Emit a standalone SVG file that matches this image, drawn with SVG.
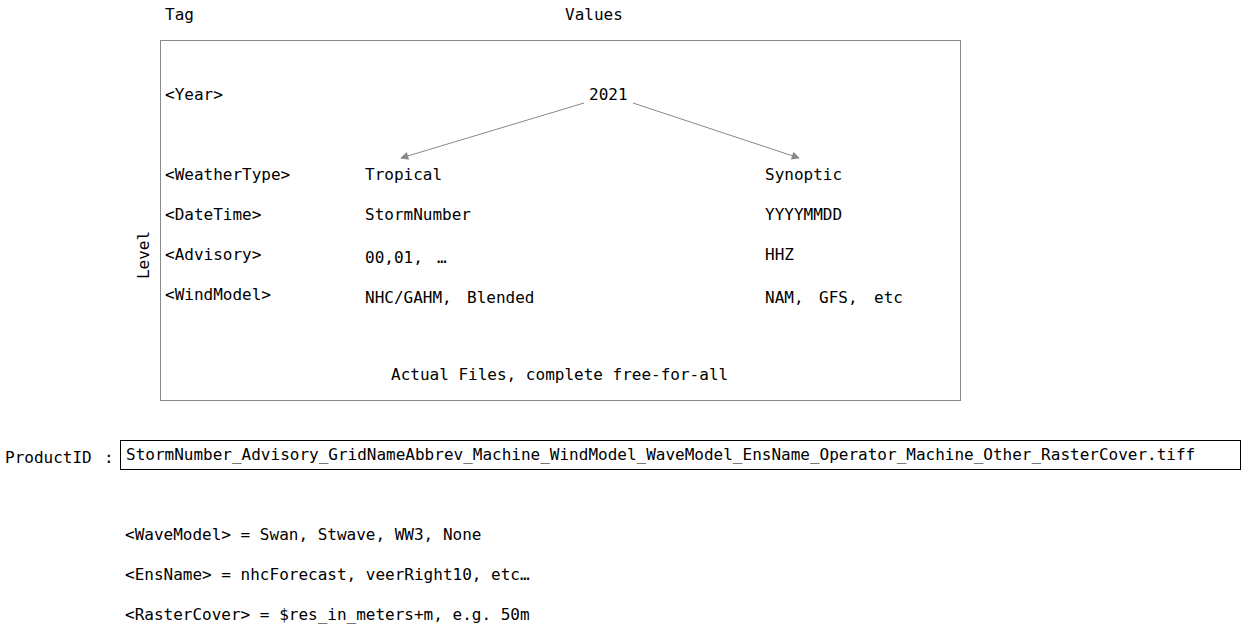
<svg xmlns="http://www.w3.org/2000/svg" width="1241" height="629" viewBox="0 0 1241 629">
<style>
text{font-family:"DejaVu Sans Mono","Liberation Mono",monospace;font-size:16px;fill:#000;white-space:pre}
.frame{fill:none;stroke:#888;stroke-width:1}
.box{fill:none;stroke:#000;stroke-width:1}
.conn{stroke:#888;stroke-width:1;fill:none}
</style>
<defs>
<marker id="ah" viewBox="0 0 10 10" refX="9" refY="5" markerWidth="10" markerHeight="8" markerUnits="userSpaceOnUse" orient="auto">
<path d="M0,0 L10,5 L0,10 z" fill="#888"/>
</marker>
</defs>
<rect class="frame" x="160.5" y="40.5" width="800" height="360"/>
<text x="165" y="20">Tag</text>
<text x="565" y="20">Values</text>
<text transform="translate(149,255) rotate(-90)" text-anchor="middle">Level</text>
<g id="tags">
<text x="165" y="100">&lt;Year&gt;</text>
<text x="165" y="180">&lt;WeatherType&gt;</text>
<text x="165" y="220">&lt;DateTime&gt;</text>
<text x="165" y="260">&lt;Advisory&gt;</text>
<text x="165" y="300">&lt;WindModel&gt;</text>
</g>
<g id="n2021"><text x="589" y="100">2021</text></g>
<g id="tropical">
<text x="365" y="180">Tropical</text>
<text x="365" y="220">StormNumber</text>
<text y="263" xml:space="preserve"><tspan x="365">00,01,</tspan><tspan x="437">…</tspan></text>
<text y="303" xml:space="preserve"><tspan x="365">NHC/GAHM,</tspan><tspan x="467">Blended</tspan></text>
</g>
<g id="synoptic">
<text x="765" y="180">Synoptic</text>
<text x="765" y="220">YYYYMMDD</text>
<text x="765" y="260">HHZ</text>
<text y="303" xml:space="preserve"><tspan x="765">NAM,</tspan><tspan x="819">GFS,</tspan><tspan x="874">etc</tspan></text>
</g>
<g id="actual"><text x="391" y="380">Actual Files, complete free-for-all</text></g>
<g id="connectors">
<line class="conn" x1="584" y1="103" x2="401" y2="158" marker-end="url(#ah)"/>
<line class="conn" x1="633" y1="103" x2="799" y2="158" marker-end="url(#ah)"/>
</g>
<g id="productid">
<text y="463" xml:space="preserve"><tspan x="5">ProductID</tspan><tspan x="104">:</tspan></text>
<rect class="box" x="120.5" y="440.5" width="1120" height="29"/>
<text x="126" y="460">StormNumber_Advisory_GridNameAbbrev_Machine_WindModel_WaveModel_EnsName_Operator_Machine_Other_RasterCover.tiff</text>
</g>
<g id="notes">
<text x="125" y="540">&lt;WaveModel&gt; = Swan, Stwave, WW3, None</text>
<text x="125" y="580">&lt;EnsName&gt; = nhcForecast, veerRight10, etc…</text>
<text x="125" y="620">&lt;RasterCover&gt; = $res_in_meters+m, e.g. 50m</text>
</g>
</svg>
